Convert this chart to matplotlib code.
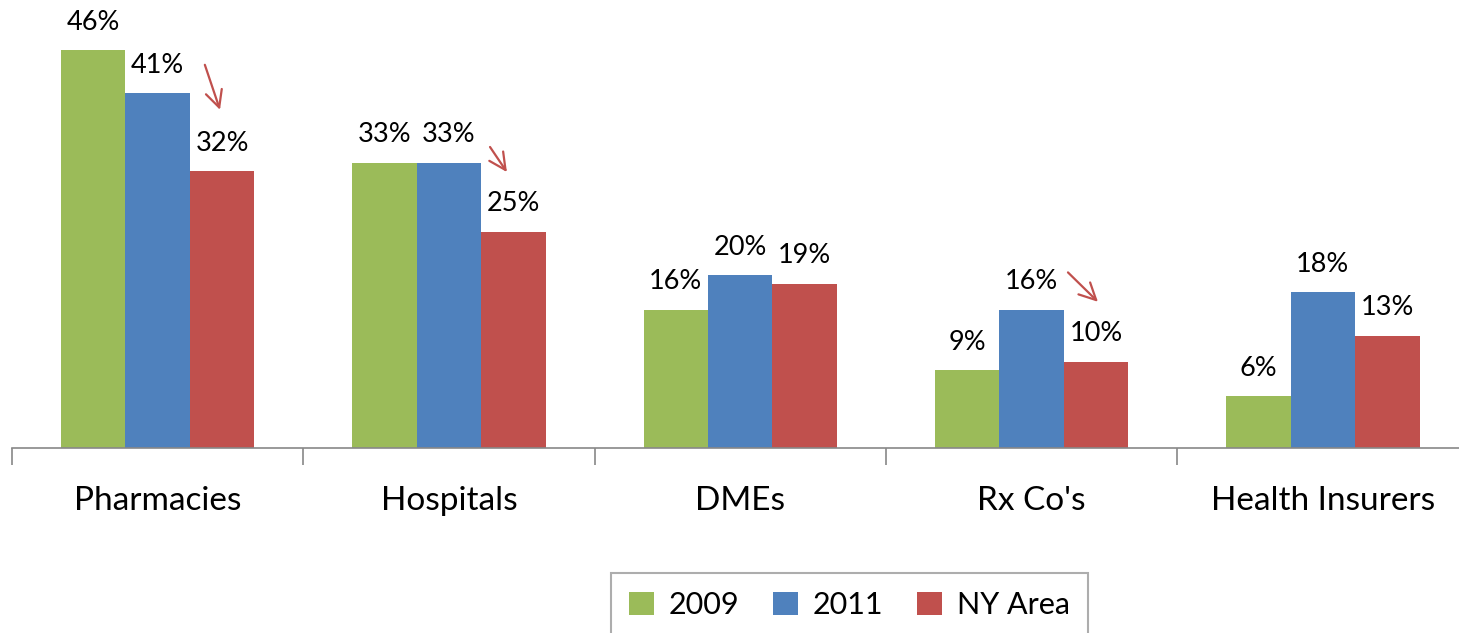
import numpy as np
import matplotlib.pyplot as plt

plt.rcParams['font.family'] = ['Lato', 'DejaVu Sans']

categories = ["Pharmacies", "Hospitals", "DMEs", "Rx Co's", "Health Insurers"]
series = ["2009", "2011", "NY Area"]
v2009 = [46, 33, 16, 9, 6]
v2011 = [41, 33, 20, 16, 18]
vny = [32, 25, 19, 10, 13]
colors = ["#9BBB59", "#4F81BD", "#C0504D"]

# red arrows: category index, (x offset, y) start and end
arrows = [(0, 0.162, 44.3, 0.214, 39.1),
          (1, 0.141, 34.8, 0.199, 31.9),
          (3, 0.125, 20.3, 0.228, 16.9)]

fig = plt.figure(figsize=(14.59, 6.33), dpi=100)
ax = fig.add_axes([12 / 1459, 185 / 633, 1456.5 / 1459, 448 / 633])

x = np.arange(len(categories))
w = 0.2213
for k, (vals, c) in enumerate(zip([v2009, v2011, vny], colors)):
    bars = ax.bar(x + (k - 1) * w, vals, w, color=c, label=series[k], zorder=2)
    for b, v in zip(bars, vals):
        ax.annotate("%d%%" % v, (b.get_x() + b.get_width() / 2, v), xytext=(0, 11),
                    textcoords="offset points", ha="center", va="bottom", fontsize=19.5)

for i, dx0, y0, dx1, y1 in arrows:
    ax.annotate("", xy=(i + dx1, y1), xytext=(i + dx0, y0),
                arrowprops=dict(arrowstyle="->", color="#C0504D", lw=1.6,
                                mutation_scale=30, shrinkA=0, shrinkB=0))

ax.set_xlim(-0.5, len(categories) - 0.5)
ax.set_ylim(0, 448 / 8.65)
for s in ["top", "right", "left"]:
    ax.spines[s].set_visible(False)
ax.spines["bottom"].set_color("#888888")
ax.spines["bottom"].set_linewidth(1.2)
ax.set_yticks([])
ax.set_xticks(np.arange(len(categories) + 1) - 0.5)
ax.set_xticklabels([])
ax.set_xticks(x, minor=True)
ax.set_xticklabels(categories, minor=True, fontsize=24)
ax.tick_params(axis="x", which="major", direction="out", length=12, width=1.2, color="#888888")
ax.tick_params(axis="x", which="minor", length=0, pad=27)

leg = fig.legend(loc="upper left", bbox_to_anchor=(611 / 1459, 1 - 573 / 633), ncol=3,
                 fontsize=22, frameon=True, fancybox=False, handlelength=0.8,
                 handleheight=0.8, columnspacing=1.1, handletextpad=0.5,
                 borderpad=0.6, borderaxespad=0)
leg.get_frame().set_edgecolor("#999999")
leg.get_frame().set_linewidth(1.5)

fig.savefig("out.png", dpi=100)
